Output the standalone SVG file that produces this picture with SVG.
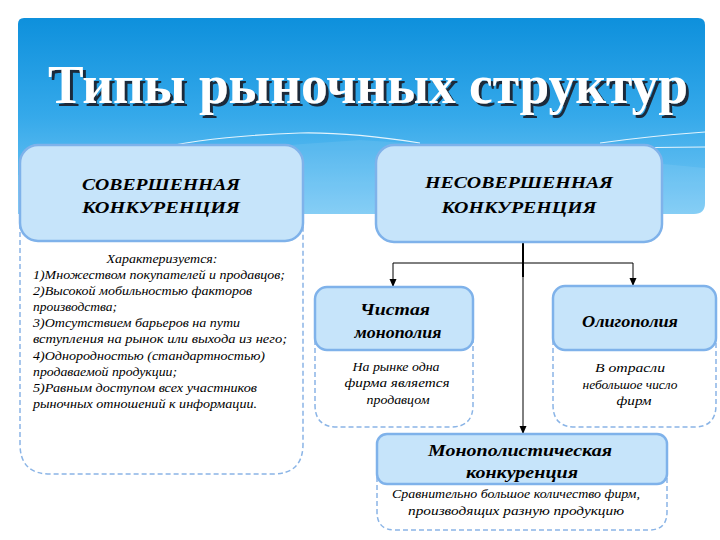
<svg xmlns="http://www.w3.org/2000/svg" width="720" height="540" viewBox="0 0 720 540">
<defs>
<linearGradient id="sky" x1="0" y1="0" x2="0" y2="1">
<stop offset="0" stop-color="#0e90dc"/>
<stop offset="0.5" stop-color="#35a9ea"/>
<stop offset="1" stop-color="#7ccaf5"/>
</linearGradient>
<filter id="shadow" x="-5%" y="-20%" width="110%" height="140%">
<feFlood flood-color="#1a2a3a"/>
<feComposite in2="SourceAlpha" operator="in" result="s"/>
<feOffset dx="3" dy="3" result="o"/>
<feMerge><feMergeNode in="o"/><feMergeNode in="SourceGraphic"/></feMerge>
</filter>
<marker id="ah" markerWidth="8" markerHeight="8" refX="7" refY="4" orient="auto" markerUnits="userSpaceOnUse">
<path d="M0,0.5 L8,4 L0,7.5 Z" fill="#000"/>
</marker>
</defs>
<style>
.box{fill:#c6e4fa;stroke:#7fb2ea;stroke-width:2.5}
.dash{fill:#fff;stroke:#8ab4e6;stroke-width:1.5;stroke-dasharray:5 3}
.serif{font-family:"Liberation Serif","Times New Roman","DejaVu Serif",serif}
.hd{font-weight:bold;font-style:italic;fill:#000;text-anchor:middle}
.tx{font-style:italic;fill:#000;font-size:12px}
.ctr{text-anchor:middle}
.ln{stroke:#000;fill:none}
.wave{stroke:#fff;fill:none;stroke-width:1.2;opacity:0.85}
</style>
<rect width="720" height="540" fill="#fff"/>
<g id="header">
<path d="M24,18 H698 Q705,18 705,25 V203 Q705,214 694,214 H18 V24 Q18,18 24,18 Z" fill="url(#sky)"/>
<path d="M18,175 Q200,150 360,140 Q520,150 705,168 V214 H18 Z" fill="#ffffff" opacity="0.08"/>
<path class="wave" d="M150,150 Q210,136 300,133 Q350,132 420,143"/>
<path class="wave" d="M600,143 Q650,136 705,132"/>
<path class="wave" d="M520,150 Q600,148 705,147" opacity="0.4"/>
<text class="serif" x="48" y="103" font-weight="bold" font-size="54" textLength="640" lengthAdjust="spacingAndGlyphs" fill="#fff" filter="url(#shadow)">Типы рыночных структур</text>
</g>
<g id="connectors">
<line class="ln" x1="523" y1="242" x2="523" y2="277" stroke-width="2"/>
<line class="ln" x1="523" y1="242" x2="523" y2="433" stroke-width="1" marker-end="url(#ah)"/>
<line class="ln" x1="393" y1="263" x2="633" y2="263" stroke-width="1"/>
<line class="ln" x1="393" y1="263" x2="393" y2="286" stroke-width="1" marker-end="url(#ah)"/>
<line class="ln" x1="633" y1="263" x2="633" y2="285" stroke-width="1" marker-end="url(#ah)"/>
</g>
<g id="perfect">
<path class="dash" d="M20,160 V444 Q20,474 50,474 H273 Q303,474 303,444 V160 Z"/>
<rect class="box" x="20" y="145" width="283" height="96" rx="18"/>
<text class="serif hd" x="161" y="190" font-size="16" textLength="158" lengthAdjust="spacingAndGlyphs">СОВЕРШЕННАЯ</text>
<text class="serif hd" x="161" y="213" font-size="16" textLength="158" lengthAdjust="spacingAndGlyphs">КОНКУРЕНЦИЯ</text>
<text class="serif tx ctr" x="162" y="263" textLength="111" lengthAdjust="spacingAndGlyphs">Характеризуется:</text>
<text class="serif tx" x="33" y="279" textLength="252" lengthAdjust="spacingAndGlyphs">1)Множеством покупателей и продавцов;</text>
<text class="serif tx" x="33" y="295" textLength="219" lengthAdjust="spacingAndGlyphs">2)Высокой мобильностью факторов</text>
<text class="serif tx" x="33" y="311" textLength="84" lengthAdjust="spacingAndGlyphs">производства;</text>
<text class="serif tx" x="33" y="327" textLength="207" lengthAdjust="spacingAndGlyphs">3)Отсутствием барьеров на пути</text>
<text class="serif tx" x="33" y="343" textLength="254" lengthAdjust="spacingAndGlyphs">вступления на рынок или выхода из него;</text>
<text class="serif tx" x="33" y="360" textLength="232" lengthAdjust="spacingAndGlyphs">4)Однородностью (стандартностью)</text>
<text class="serif tx" x="33" y="376" textLength="144" lengthAdjust="spacingAndGlyphs">продаваемой продукции;</text>
<text class="serif tx" x="33" y="392" textLength="224" lengthAdjust="spacingAndGlyphs">5)Равным доступом всех участников</text>
<text class="serif tx" x="33" y="408" textLength="224" lengthAdjust="spacingAndGlyphs">рыночных отношений к информации.</text>
</g>
<g id="imperfect">
<rect class="box" x="376" y="145" width="286" height="97" rx="18"/>
<text class="serif hd" x="519" y="188" font-size="16" textLength="188" lengthAdjust="spacingAndGlyphs">НЕСОВЕРШЕННАЯ</text>
<text class="serif hd" x="519" y="213" font-size="16" textLength="155" lengthAdjust="spacingAndGlyphs">КОНКУРЕНЦИЯ</text>
</g>
<g id="monopoly">
<path class="dash" d="M315,300 V405 Q315,427 337,427 H451 Q473,427 473,405 V300 Z"/>
<rect class="box" x="315" y="287" width="158" height="63" rx="12"/>
<text class="serif hd" x="395" y="315" font-size="17" textLength="70" lengthAdjust="spacingAndGlyphs">Чистая</text>
<text class="serif hd" x="398" y="338" font-size="17" textLength="87" lengthAdjust="spacingAndGlyphs">монополия</text>
<text class="serif tx ctr" x="396" y="371" textLength="87" lengthAdjust="spacingAndGlyphs">На рынке одна</text>
<text class="serif tx ctr" x="397" y="387" textLength="105" lengthAdjust="spacingAndGlyphs">фирма является</text>
<text class="serif tx ctr" x="398" y="404" textLength="63" lengthAdjust="spacingAndGlyphs">продавцом</text>
</g>
<g id="oligopoly">
<path class="dash" d="M553,300 V405 Q553,427 575,427 H694 Q716,427 716,405 V300 Z"/>
<rect class="box" x="553" y="286" width="163" height="64" rx="12"/>
<text class="serif hd" x="630" y="327" font-size="17" textLength="96" lengthAdjust="spacingAndGlyphs">Олигополия</text>
<text class="serif tx ctr" x="630" y="372" textLength="70" lengthAdjust="spacingAndGlyphs">В отрасли</text>
<text class="serif tx ctr" x="630" y="389" textLength="95" lengthAdjust="spacingAndGlyphs">небольшое число</text>
<text class="serif tx ctr" x="634" y="405" textLength="35" lengthAdjust="spacingAndGlyphs">фирм</text>
</g>
<g id="monocomp">
<path class="dash" d="M377,445 V512 Q377,530 395,530 H649 Q667,530 667,512 V445 Z"/>
<rect class="box" x="377" y="434" width="290" height="50" rx="10"/>
<text class="serif hd" x="520" y="456" font-size="17" textLength="184" lengthAdjust="spacingAndGlyphs">Монополистическая</text>
<text class="serif hd" x="522" y="478" font-size="17" textLength="112" lengthAdjust="spacingAndGlyphs">конкуренция</text>
<text class="serif tx ctr" x="516" y="498" textLength="248" lengthAdjust="spacingAndGlyphs">Сравнительно большое количество фирм,</text>
<text class="serif tx ctr" x="516" y="515" textLength="216" lengthAdjust="spacingAndGlyphs">производящих разную продукцию</text>
</g>
</svg>
